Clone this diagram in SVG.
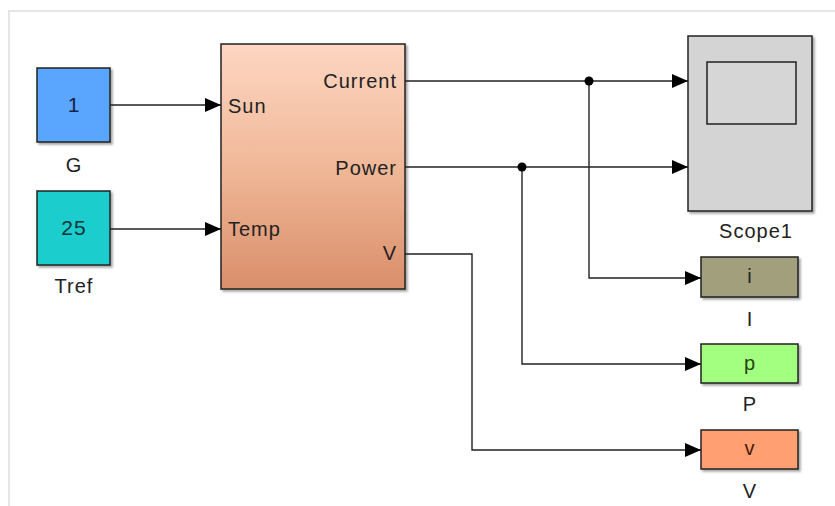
<svg xmlns="http://www.w3.org/2000/svg" width="835" height="506" viewBox="0 0 835 506">
<defs>
<linearGradient id="pvg" x1="0" y1="0" x2="0" y2="1">
<stop offset="0" stop-color="#fed6c2"/>
<stop offset="0.5" stop-color="#f0b898"/>
<stop offset="1" stop-color="#d98e6a"/>
</linearGradient>
<marker id="arr" markerWidth="16" markerHeight="14" refX="16" refY="7" orient="auto" markerUnits="userSpaceOnUse">
<path d="M0,0 L16,7 L0,14 Z" fill="#000"/>
</marker>
<filter id="sh" x="-10%" y="-10%" width="130%" height="130%">
<feDropShadow dx="2" dy="2" stdDeviation="1" flood-color="#000" flood-opacity="0.35"/>
</filter>
</defs>
<style>
.blk{stroke:#222;stroke-width:1.5;filter:url(#sh)}
.t{font-family:"Liberation Sans",Arial,sans-serif;fill:#222;letter-spacing:1px}
.lbl{font-size:20px;text-anchor:middle}
.num{font-size:21px;text-anchor:middle}
.port{font-size:20px}
.wire{fill:none;stroke:#222;stroke-width:1.4}
</style>
<rect width="835" height="506" fill="#fff"/>
<path d="M9,506 V11 H835" fill="none" stroke="#e6e6e6" stroke-width="2"/>

<g id="G">
<rect class="blk" x="37" y="68" width="73" height="74" fill="#5aa6ff"/>
<text class="t num" x="74" y="112" style="fill:#112244">1</text>
<text class="t lbl" x="74" y="172">G</text>
</g>
<g id="Tref">
<rect class="blk" x="37" y="191" width="73" height="74" fill="#1ecdcd"/>
<text class="t num" x="74" y="235" style="fill:#113333">25</text>
<text class="t lbl" x="74" y="293">Tref</text>
</g>
<g id="PV">
<rect class="blk" x="221" y="44" width="184" height="245" fill="url(#pvg)"/>
<text class="t port" x="228" y="113">Sun</text>
<text class="t port" x="228" y="236">Temp</text>
<text class="t port" x="397" y="88" text-anchor="end">Current</text>
<text class="t port" x="397" y="175" text-anchor="end">Power</text>
<text class="t port" x="397" y="260" text-anchor="end">V</text>
</g>
<g id="Scope1">
<rect class="blk" x="688" y="36" width="124" height="175" fill="#d4d4d4"/>
<rect x="707" y="62" width="89" height="62" fill="#d6d6d6" stroke="#222" stroke-width="1.5"/>
<text class="t lbl" x="756" y="238">Scope1</text>
</g>
<g id="I">
<rect class="blk" x="701" y="257" width="97" height="40" fill="#a19f7b"/>
<text class="t lbl" x="750" y="283">i</text>
<text class="t lbl" x="750" y="326">I</text>
</g>
<g id="P">
<rect class="blk" x="701" y="344" width="97" height="39" fill="#a2ff80"/>
<text class="t lbl" x="750" y="370" style="fill:#224411">p</text>
<text class="t lbl" x="750" y="411">P</text>
</g>
<g id="V">
<rect class="blk" x="701" y="430" width="97" height="39" fill="#ff9f72"/>
<text class="t lbl" x="750" y="455" style="fill:#441a0a">v</text>
<text class="t lbl" x="750" y="498">V</text>
</g>

<g id="connectors">
<path class="wire" d="M110,105 H221" marker-end="url(#arr)"/>
<path class="wire" d="M110,229 H221" marker-end="url(#arr)"/>
<path class="wire" d="M405,81 H688" marker-end="url(#arr)"/>
<path class="wire" d="M405,167 H688" marker-end="url(#arr)"/>
<path class="wire" d="M589,81 V278 H701" marker-end="url(#arr)"/>
<path class="wire" d="M522,167 V364 H701" marker-end="url(#arr)"/>
<path class="wire" d="M405,254 H472 V450 H701" marker-end="url(#arr)"/>
<circle cx="589" cy="81" r="4.5" fill="#000"/>
<circle cx="522" cy="167" r="4.5" fill="#000"/>
</g>
</svg>
